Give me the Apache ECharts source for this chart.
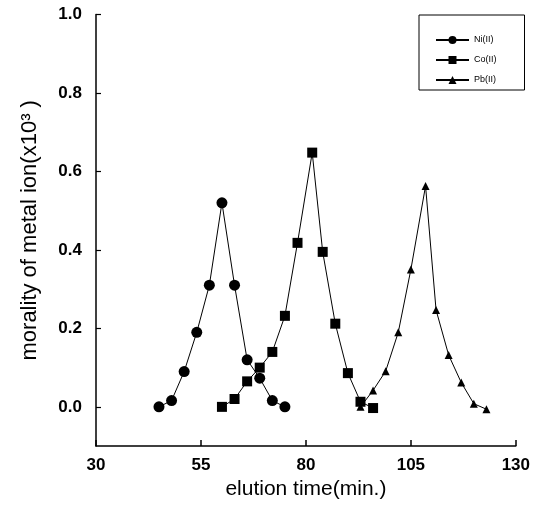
<!DOCTYPE html>
<html>
<head>
<meta charset="utf-8">
<script src="https://cdn.jsdelivr.net/npm/echarts@6/dist/echarts.min.js"></script>
<style>html,body{margin:0;padding:0;background:#fff;}#c{width:533px;height:505px;}</style>
</head>
<body>
<div id="c"></div>
<script>
const niTime = [45, 48, 51, 54, 57, 60, 63, 66, 69, 72, 75];
const niVal  = [0.0, 0.016, 0.09, 0.19, 0.31, 0.52, 0.31, 0.12, 0.073, 0.016, 0.0];
const coTime = [60, 63, 66, 69, 72, 75, 78, 81.5, 84, 87, 90, 93, 96];
const coVal  = [0.0, 0.02, 0.065, 0.10, 0.14, 0.232, 0.418, 0.648, 0.395, 0.212, 0.086, 0.013, -0.003];
const pbTime = [93, 96, 99, 102, 105, 108.5, 111, 114, 117, 120, 123];
const pbVal  = [0.0, 0.042, 0.091, 0.19, 0.35, 0.563, 0.247, 0.132, 0.062, 0.008, -0.006];
const yTicks = [0, 0.2, 0.4, 0.6, 0.8, 1.0];
const seriesNames = ['Ni(II)', 'Co(II)', 'Pb(II)'];

const zip = (a, b) => a.map((v, i) => [v, b[i]]);
const chart = echarts.init(document.getElementById('c'));
const lineStyle = { color: '#000', width: 1 };
chart.setOption({
  animation: false,
  backgroundColor: '#fff',
  grid: { left: 96, right: 17, top: 14.5, bottom: 58.3, containLabel: false },
  legend: {
    orient: 'vertical', left: 419, top: 15,
    padding: [20, 28, 5, 16], itemGap: 10,
    itemWidth: 33, itemHeight: 10,
    borderColor: '#000', borderWidth: 1,
    textStyle: { fontSize: 9, color: '#000', fontFamily: 'Liberation Sans', lineHeight: 10 },
    data: seriesNames
  },
  xAxis: {
    type: 'value', min: 30, max: 130, interval: 25,
    name: 'elution time(min.)', nameLocation: 'middle', nameGap: 32,
    nameTextStyle: { fontSize: 21, color: '#000', fontFamily: 'Liberation Sans' },
    axisLine: { onZero: false, lineStyle: { color: '#000', width: 1.5 } },
    axisTick: { inside: true, length: 6, lineStyle: { color: '#000', width: 1.5 } },
    axisLabel: { fontSize: 17, fontWeight: 'bold', color: '#000', margin: 11, fontFamily: 'Liberation Sans' },
    splitLine: { show: false }
  },
  yAxis: {
    type: 'value', min: -0.1, max: 1.0,
    name: 'morality of metal ion(x10³ )', nameLocation: 'middle', nameGap: 55,
    nameTextStyle: { fontSize: 22, color: '#000', fontFamily: 'Liberation Sans' },
    axisLine: { onZero: false, lineStyle: { color: '#000', width: 1.5 } },
    axisTick: { inside: true, length: 5, customValues: yTicks, lineStyle: { color: '#000', width: 1.2 } },
    axisLabel: { customValues: yTicks, formatter: v => v.toFixed(1), fontSize: 17, fontWeight: 'bold', color: '#000', margin: 14, fontFamily: 'Liberation Sans' },
    splitLine: { show: false }
  },
  series: [
    { name: seriesNames[0], type: 'line', data: zip(niTime, niVal), symbol: 'circle', symbolSize: 11,
      itemStyle: { color: '#000' }, lineStyle: lineStyle },
    { name: seriesNames[1], type: 'line', data: zip(coTime, coVal), symbol: 'rect', symbolSize: 10,
      itemStyle: { color: '#000' }, lineStyle: lineStyle },
    { name: seriesNames[2], type: 'line', data: zip(pbTime, pbVal), symbol: 'triangle', symbolSize: 8,
      itemStyle: { color: '#000' }, lineStyle: lineStyle }
  ]
});
</script>
</body>
</html>
